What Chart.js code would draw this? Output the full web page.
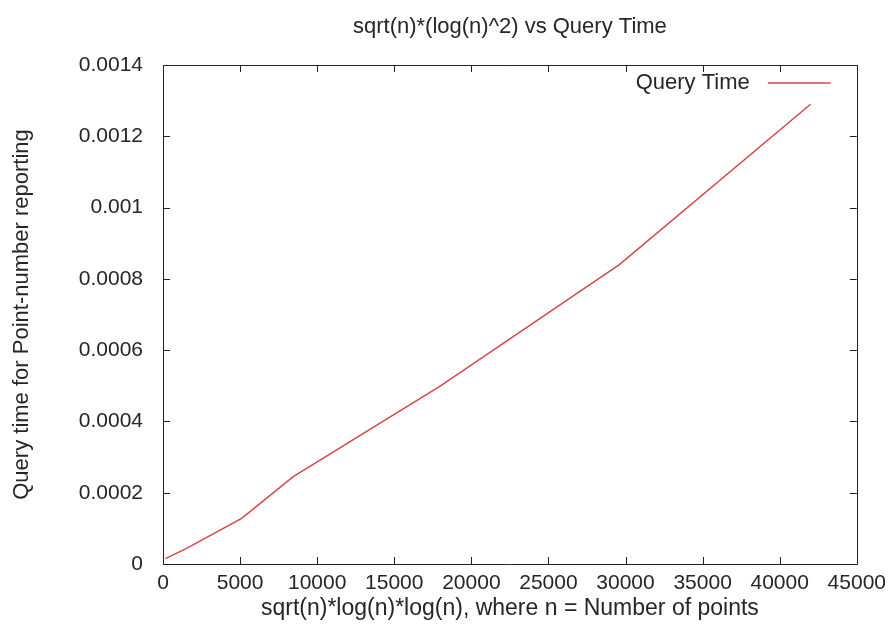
<!DOCTYPE html>
<html>
<head>
<meta charset="utf-8">
<script src="https://cdn.jsdelivr.net/npm/chart.js@4/dist/chart.umd.min.js"></script>
<style>
  html, body { margin: 0; padding: 0; background: #fff; }
  #wrap { width: 893px; height: 639px; }
</style>
</head>
<body>
<div id="wrap"><canvas id="myChart"></canvas></div>
<script>
// values
var xValues = [150, 1500, 5100, 8450, 18000, 29600, 42000];
var queryTime = [0.000015, 0.000043, 0.000128, 0.000245, 0.0005, 0.00084, 0.00129];
var xTicks = [0, 5000, 10000, 15000, 20000, 25000, 30000, 35000, 40000, 45000];
var yTicks = [0, 0.0002, 0.0004, 0.0006, 0.0008, 0.001, 0.0012, 0.0014];
var chartTitle = 'sqrt(n)*(log(n)^2) vs Query Time';

var textColor = '#262626';
var lineColor = 'rgb(214, 72, 72)';
var fontFamily = '"Liberation Sans", Arial, sans-serif';

var points = xValues.map(function (x, i) { return { x: x, y: queryTime[i] }; });

// gnuplot style border with inward ticks, title over the plot, legend inside
var gnuplotFrame = {
    id: 'gnuplotFrame',
    afterDraw: function (chart) {
        var c = chart.ctx;
        var a = chart.chartArea;
        var xs = chart.scales.x, ys = chart.scales.y;
        var len = 7;
        c.save();
        c.strokeStyle = '#222';
        c.lineWidth = 1;
        c.beginPath();
        c.rect(Math.round(a.left) + 0.5, Math.round(a.top) + 0.5, Math.round(a.right - a.left), Math.round(a.bottom - a.top));
        xTicks.forEach(function (v) {
            var px = Math.round(xs.getPixelForValue(v)) + 0.5;
            c.moveTo(px, a.bottom); c.lineTo(px, a.bottom - len);
            c.moveTo(px, a.top); c.lineTo(px, a.top + len);
        });
        yTicks.forEach(function (v) {
            var py = Math.round(ys.getPixelForValue(v)) + 0.5;
            c.moveTo(a.left, py); c.lineTo(a.left + len, py);
            c.moveTo(a.right, py); c.lineTo(a.right - len, py);
        });
        c.stroke();

        // title, centred on the plot box
        c.font = '22px ' + fontFamily;
        c.fillStyle = textColor;
        c.textAlign = 'center';
        c.textBaseline = 'middle';
        c.fillText(chartTitle, (a.left + a.right) / 2, 27);

        // legend
        var ds = chart.data.datasets[0];
        var ly = a.top + 18;
        c.textAlign = 'right';
        c.fillText(ds.label, a.right - 107, ly);
        c.strokeStyle = ds.borderColor;
        c.lineWidth = 1.5;
        c.beginPath();
        c.moveTo(a.right - 89, ly);
        c.lineTo(a.right - 26, ly);
        c.stroke();
        c.restore();
    }
};

var ctx = document.getElementById('myChart').getContext('2d');
var myChart = new Chart(ctx, {
    type: 'scatter',
    data: {
        datasets: [{
            label: 'Query Time',
            data: points,
            showLine: true,
            borderColor: lineColor,
            backgroundColor: lineColor,
            borderWidth: 1.5,
            pointRadius: 0,
            tension: 0
        }]
    },
    options: {
        responsive: true,
        maintainAspectRatio: false,
        animation: false,
        layout: {
            padding: { left: 0, right: 34, top: 65, bottom: 0 }
        },
        plugins: {
            legend: { display: false },
            tooltip: { enabled: false },
            title: { display: false }
        },
        scales: {
            x: {
                type: 'linear',
                min: 0,
                max: 45000,
                afterFit: function (scale) { scale.height = 75; },
                afterBuildTicks: function (scale) {
                    scale.ticks = xTicks.map(function (v) { return { value: v }; });
                },
                grid: { display: false, drawTicks: false },
                border: { display: false },
                ticks: {
                    color: textColor,
                    font: { family: fontFamily, size: 21 },
                    padding: 7,
                    maxRotation: 0,
                    callback: function (v) { return String(v); }
                },
                title: {
                    display: true,
                    text: 'sqrt(n)*log(n)*log(n), where n = Number of points',
                    color: textColor,
                    font: { family: fontFamily, size: 23 },
                    padding: { top: 0, bottom: 17 }
                }
            },
            y: {
                type: 'linear',
                min: 0,
                max: 0.0014,
                afterFit: function (scale) { scale.width = 163; },
                afterBuildTicks: function (scale) {
                    scale.ticks = yTicks.map(function (v) { return { value: v }; });
                },
                grid: { display: false, drawTicks: false },
                border: { display: false },
                ticks: {
                    color: textColor,
                    font: { family: fontFamily, size: 21 },
                    padding: 20,
                    callback: function (v) { return String(+v.toFixed(6)); }
                },
                title: {
                    display: true,
                    text: 'Query time for Point-number reporting',
                    color: textColor,
                    font: { family: fontFamily, size: 22 },
                    padding: { top: 9, bottom: 0 }
                }
            }
        }
    },
    plugins: [gnuplotFrame]
});
</script>
</body>
</html>
